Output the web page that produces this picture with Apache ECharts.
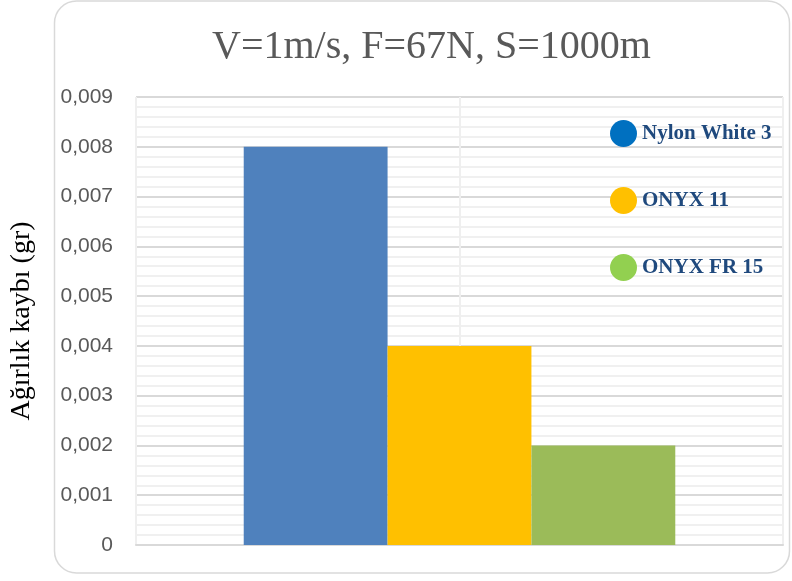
<!DOCTYPE html>
<html>
<head>
<meta charset="utf-8">
<script src="https://cdn.jsdelivr.net/npm/echarts@6/dist/echarts.min.js"></script>
<style>
html,body{margin:0;padding:0;background:#fff;}
#c{width:792px;height:581px;}
</style>
</head>
<body>
<div id="c"></div>
<script>
const titleText = 'V=1m/s, F=67N, S=1000m';
const yAxisName = 'Ağırlık kaybı (gr)';
const categories = [''];
const seriesNames = ['Nylon White 3', 'ONYX 11', 'ONYX FR 15'];
const nylonWhite3 = [0.008];
const onyx11 = [0.004];
const onyxFr15 = [0.002];
const barColors = ['#4f81bd', '#ffc000', '#9bbb59'];
const legendColors = ['#0070c0', '#ffc000', '#92d050'];

const seriesData = [nylonWhite3, onyx11, onyxFr15];

const chart = echarts.init(document.getElementById('c'), null, {renderer: 'canvas'});
chart.setOption({
  animation: false,
  backgroundColor: '#ffffff',
  graphic: [{
    type: 'rect',
    shape: {x: 54.5, y: 1, width: 735, height: 572, r: 22},
    style: {fill: 'none', stroke: '#d9d9d9', lineWidth: 1.5},
    z: -10, silent: true
  }],
  title: {
    text: titleText,
    left: 207,
    top: 22,
    textStyle: {fontFamily: 'Liberation Serif', fontSize: 40, fontWeight: 'normal', color: '#595959'}
  },
  legend: {
    orient: 'vertical',
    left: 605,
    top: 115,
    itemWidth: 27,
    itemHeight: 27,
    itemGap: 40,
    icon: 'circle',
    data: seriesNames.map((n, i) => ({name: n, itemStyle: {color: legendColors[i]}})),
    textStyle: {fontFamily: 'Liberation Serif', fontSize: 21, fontWeight: 'bold', color: '#1f497d'}
  },
  grid: {left: 135, right: 9, top: 97, bottom: 36, containLabel: false},
  xAxis: [{
    type: 'category',
    data: categories,
    axisLine: {show: true, lineStyle: {color: '#d9d9d9', width: 2}},
    axisTick: {show: false},
    axisLabel: {show: false},
    splitLine: {show: false}
  }, {
    type: 'value',
    min: 0, max: 2, interval: 1,
    position: 'top',
    axisLine: {show: false},
    axisTick: {show: false},
    axisLabel: {show: false},
    splitLine: {show: true, lineStyle: {color: '#efefef', width: 2}}
  }],
  yAxis: {
    type: 'value',
    min: 0, max: 0.009, interval: 0.001,
    name: yAxisName,
    nameLocation: 'middle',
    nameGap: 100,
    nameTextStyle: {fontFamily: 'Liberation Serif', fontSize: 28, color: '#000000'},
    axisLine: {show: false},
    axisTick: {show: false},
    axisLabel: {
      margin: 23,
      fontFamily: 'Liberation Sans', fontSize: 21, color: '#595959',
      formatter: v => v === 0 ? '0' : v.toFixed(3).replace('.', ',')
    },
    splitLine: {show: true, lineStyle: {color: '#d9d9d9', width: 2}},
    minorTick: {show: false, splitNumber: 5},
    minorSplitLine: {show: true, lineStyle: {color: '#f0f0f0', width: 2}}
  },
  series: seriesNames.map((n, i) => ({
    name: n,
    type: 'bar',
    xAxisIndex: 0,
    data: seriesData[i],
    barGap: '0%',
    barCategoryGap: '33.3%',
    itemStyle: {color: barColors[i]},
    z: 3
  }))
});
</script>
</body>
</html>
